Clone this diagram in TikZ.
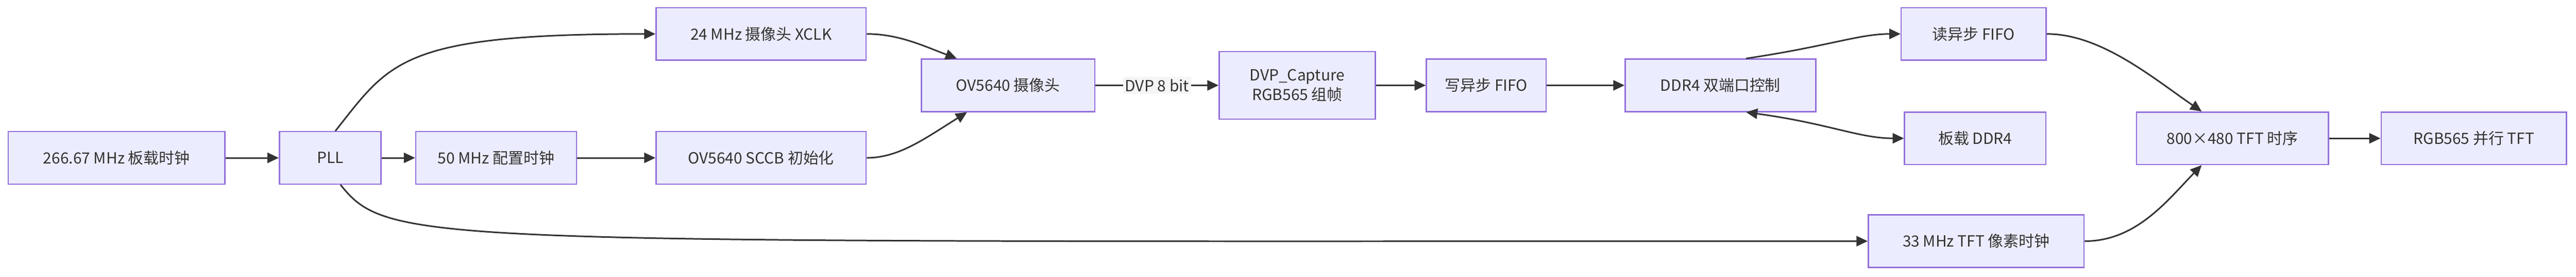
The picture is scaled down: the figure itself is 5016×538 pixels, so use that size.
\documentclass[tikz,border=0pt]{standalone}
\usepackage{fontspec}
\setmainfont{Noto Sans CJK SC}
\usetikzlibrary{arrows.meta}
\tikzset{
  x=1pt, y=-1pt,
  blk/.style={draw=blk line, fill=blk fill, line width=2.5pt, minimum height=102pt,
    inner xsep=0pt, align=center, font=\fontsize{30}{38}\selectfont, text=black!80}, % every box
  link/.style={draw=black!80, line width=3pt, -{Triangle[length=22pt,width=20pt]}},
  both/.style={link, {Triangle[length=22pt,width=20pt]}-{Triangle[length=22pt,width=20pt]}},
  lbl/.style={fill=gray!8, font=\fontsize{30}{38}\selectfont, text=black!80, inner sep=4pt},
}
\definecolor{blk fill}{HTML}{ECECFF}
\definecolor{blk line}{HTML}{9370DB}

\begin{document}
\begin{tikzpicture}
    \useasboundingbox (0,0) rectangle (5016,538);
    \node[blk, minimum width=422pt] (osc) at (227,307) {266.67 MHz 板载时钟};
    \node[blk, minimum width=198pt] (pll) at (643,307) {PLL};
    \node[blk, minimum width=313pt] (cfg) at (966,307) {50 MHz 配置时钟};
    \node[blk, minimum width=409pt] (sccb) at (1482,307) {OV5640 SCCB 初始化};
    \node[blk, minimum width=409pt] (xclk) at (1482,66) {24 MHz 摄像头 XCLK};
    \node[blk, minimum width=338pt] (cam) at (1963,166) {OV5640 摄像头};
    \node[blk, minimum width=304pt, minimum height=131pt] (dvp) at (2526,166) {DVP\_Capture\\RGB565 组帧};
    \node[blk, minimum width=233pt] (wfifo) at (2894,166) {写异步 FIFO};
    \node[blk, minimum width=371pt] (ddrc) at (3350,166) {DDR4 双端口控制};
    \node[blk, minimum width=282pt] (rfifo) at (3843,66) {读异步 FIFO};
    \node[blk, minimum width=275pt] (ddr) at (3846,269) {板载 DDR4};
    \node[blk, minimum width=374pt] (tim) at (4347,269) {800×480 TFT 时序};
    \node[blk, minimum width=361pt] (tft) at (4817,269) {RGB565 并行 TFT};
    \node[blk, minimum width=420pt] (pix) at (3848,469) {33 MHz TFT 像素时钟};

    \draw[link] (osc) -- (pll);
    \draw[link] (pll) -- (cfg);
    \draw[link] (cfg) -- (sccb);
    \draw[link] (pll.north) ++(10,0) coordinate (p1) .. controls (760,120) and (780,66) .. (xclk.west);
    \draw[link] (pll.south) ++(20,0) coordinate (p2) .. controls (760,480) and (820,469) .. (pix.west);
    \draw[link] (xclk.east) .. controls (1750,66) and (1800,90) .. ([xshift=-100pt]cam.north);
    \draw[link] (sccb.east) .. controls (1750,307) and (1800,270) .. ([xshift=-80pt]cam.south);
    \draw[link] (cam) -- node[lbl] {DVP 8 bit} (dvp);
    \draw[link] (dvp) -- (wfifo);
    \draw[link] (wfifo) -- (ddrc);
    \draw[link] ([xshift=50pt]ddrc.north) .. controls (3560,90) and (3620,66) .. (rfifo.west);
    \draw[both] ([xshift=50pt]ddrc.south) .. controls (3560,240) and (3620,269) .. (ddr.west);
    \draw[link] (rfifo.east) .. controls (4090,66) and (4190,150) .. ([xshift=-60pt]tim.north);
    \draw[link] (pix.east) .. controls (4160,469) and (4220,390) .. ([xshift=-60pt]tim.south);
    \draw[link] (tim) -- (tft);
\end{tikzpicture}
\end{document}
